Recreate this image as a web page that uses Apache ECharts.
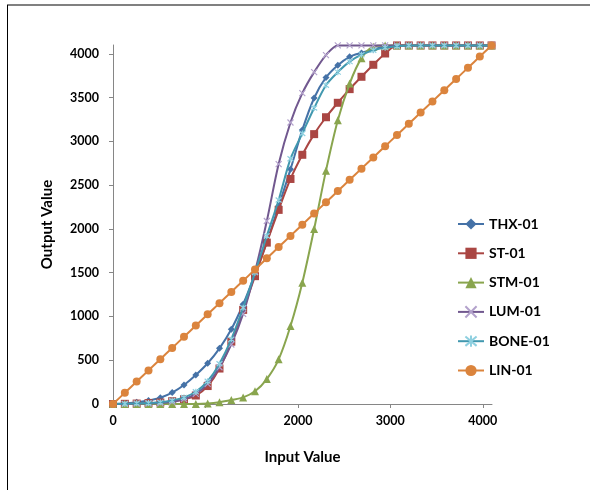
<!DOCTYPE html>
<html>
<head>
<meta charset="utf-8">
<script src="https://cdn.jsdelivr.net/npm/echarts@6/dist/echarts.min.js"></script>
<style>
html,body{margin:0;padding:0;background:#fff;}
#c{width:590px;height:490px;}
</style>
</head>
<body>
<div id="c"></div>
<script>
var inputs = [0,128,256,384,512,640,768,896,1024,1152,1280,1408,1536,1664,1792,1920,2048,2176,2304,2432,2560,2688,2816,2944,3072,3200,3328,3456,3584,3712,3840,3968,4095];
var thx  = [0,5,20,40,72,130,217,331,465,636,853,1139,1480,1850,2260,2680,3130,3495,3730,3870,3965,4010,4050,4080,4095,4095,4095,4095,4095,4095,4095,4095,4095];
var st   = [0,2,5,10,17,32,55,97,205,405,712,1075,1460,1843,2217,2570,2846,3082,3275,3440,3596,3737,3874,4003,4095,4095,4095,4095,4095,4095,4095,4095,4095];
var stm  = [0,0,0,0,0,0,0,0,5,20,45,75,145,285,510,890,1385,2000,2665,3240,3660,3950,4080,4095,4095,4095,4095,4095,4095,4095,4095,4095,4095];
var lum  = [0,2,4,6,10,25,55,115,230,420,680,1030,1510,2090,2740,3215,3550,3790,3985,4095,4095,4095,4095,4095,4095,4095,4095,4095,4095,4095,4095,4095,4095];
var bone = [0,3,8,12,20,40,75,140,260,460,740,1100,1500,1920,2330,2800,3090,3380,3640,3790,3910,3990,4040,4070,4085,4095,4095,4095,4095,4095,4095,4095,4095];
var lin  = [0,128,256,384,512,640,768,896,1024,1152,1280,1408,1536,1664,1792,1920,2048,2176,2304,2432,2560,2688,2816,2944,3072,3200,3328,3456,3584,3712,3840,3968,4095];
var names = ['THX-01','ST-01','STM-01','LUM-01','BONE-01','LIN-01'];
var xTicks = [0,1000,2000,3000,4000];
var yTicks = [0,500,1000,1500,2000,2500,3000,3500,4000];

function pairs(ys){ return inputs.map(function(x,i){ return [x, ys[i]]; }); }

var colors = ['#4572A7','#AA4643','#89A54E','#71588F','#4198AF','#DB843D'];
var markerStroke = [null, null, null, '#b3a2cc', '#8fd0e0', null];
var symbols = [
  'diamond',
  'rect',
  'triangle',
  'path://M0,0L10,10M10,0L0,10',
  'path://M0,0L10,10M10,0L0,10M5,-1L5,11',
  'circle'
];
var sizes = [7,8,8,6,6,8];
var datas = [thx, st, stm, lum, bone, lin];

var series = datas.map(function(d,k){
  var stroke = (k===3 || k===4);
  return {
    name: names[k],
    type: 'line',
    data: pairs(d),
    smooth: 0.3,
    symbol: symbols[k],
    symbolSize: sizes[k],
    showSymbol: true,
    lineStyle: {color: colors[k], width: 2},
    itemStyle: stroke ? {color: colors[k], borderColor: markerStroke[k], borderWidth: 1.2} : {color: colors[k], borderWidth: 0},
    z: 2 + k
  };
});

var chart = echarts.init(document.getElementById('c'), null, {renderer: 'canvas'});
chart.setOption({
  animation: false,
  backgroundColor: '#fff',
  color: colors,
  grid: {left: 113, right: 98, top: 45, bottom: 86, containLabel: false},
  xAxis: {
    type: 'value', min: 0, max: 4100, interval: 1000,
    name: 'Input Value', nameLocation: 'middle', nameGap: 46,
    nameTextStyle: {fontFamily: 'Lato', fontWeight: 'bold', fontSize: 15, color: '#000'},
    axisLine: {show: true, lineStyle: {color: '#868686', width: 1}},
    axisTick: {show: true, inside: false, length: 4, customValues: xTicks, lineStyle: {color: '#868686'}},
    axisLabel: {customValues: xTicks, formatter: function(v){ return String(v); }, fontFamily: 'Lato', fontWeight: 'bold', fontSize: 12.5, color: '#000', margin: 10},
    splitLine: {show: false}
  },
  yAxis: {
    type: 'value', min: 0, max: 4100, interval: 500,
    name: 'Output Value', nameLocation: 'middle', nameGap: 58,
    nameTextStyle: {fontFamily: 'Lato', fontWeight: 'bold', fontSize: 15, color: '#000'},
    axisLine: {show: true, lineStyle: {color: '#868686', width: 1}},
    axisTick: {show: true, inside: false, length: 4, customValues: yTicks, lineStyle: {color: '#868686'}},
    axisLabel: {customValues: yTicks, formatter: function(v){ return String(v); }, fontFamily: 'Lato', fontWeight: 'bold', fontSize: 12.5, color: '#000', margin: 14},
    splitLine: {show: false}
  },
  legend: {
    orient: 'vertical', left: 452, top: 212,
    itemWidth: 26, itemHeight: 14, itemGap: 15.3,
    textStyle: {fontFamily: 'Lato', fontWeight: 'bold', fontSize: 14, color: '#000'},
    data: names
  },
  graphic: [
    {type: 'line', shape: {x1: 7, y1: 5, x2: 590, y2: 5}, style: {stroke: '#808080', lineWidth: 2}},
    {type: 'line', shape: {x1: 7.5, y1: 5, x2: 7.5, y2: 490}, style: {stroke: '#000', lineWidth: 1}}
  ],
  series: series
});
</script>
</body>
</html>
